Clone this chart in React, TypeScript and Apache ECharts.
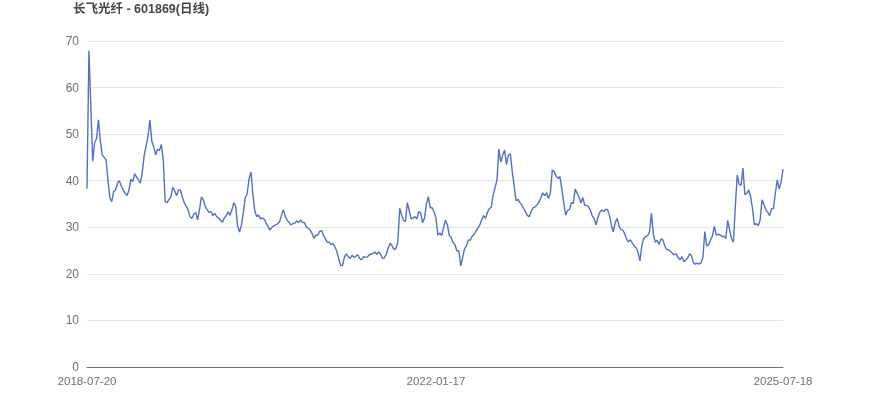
import React, { useEffect, useRef } from "react";
import * as echarts from "echarts";

const TITLE = "长飞光纤 - 601869(日线)";
const DATE_ANCHORS = ["2018-07-20", "2022-01-17", "2025-07-18"];
const Y_TICKS = [0, 10, 20, 30, 40, 50, 60, 70];

// weekly closing prices
const CLOSE: number[] = [
  38.3, 67.9, 56.0, 44.2, 48.2, 49.0, 53.1, 48.5, 45.5, 45.0,
  44.5, 40.0, 36.3, 35.5, 37.7, 38.0, 39.5, 40.0, 38.8, 38.0,
  37.3, 36.8, 38.0, 40.3, 39.8, 41.5, 40.8, 40.2, 39.5, 41.8,
  45.5, 47.5, 49.5, 53.0, 48.4, 47.3, 45.5, 46.8, 46.5, 47.8,
  44.4, 35.5, 35.3, 36.0, 36.5, 38.6, 37.8, 36.8, 38.0, 38.0,
  36.5, 35.3, 34.5, 33.8, 32.3, 31.9, 32.8, 33.2, 31.6, 33.8,
  36.5, 35.9, 34.5, 33.8, 33.2, 33.4, 32.5, 33.0, 32.3, 32.0,
  31.5, 31.1, 32.0, 32.5, 33.3, 32.6, 33.8, 35.3, 34.5, 30.2,
  29.0, 30.5, 33.2, 36.4, 37.2, 40.5, 41.9, 37.0, 33.5, 32.3,
  32.6, 31.8, 32.0, 31.7, 30.9, 30.1, 29.4, 30.0, 30.3, 30.5,
  30.8, 31.2, 32.6, 33.8, 32.3, 31.5, 31.0, 30.5, 30.8, 30.9,
  31.4, 31.0, 31.6, 31.0, 31.0, 30.1, 29.8, 29.4, 28.7, 27.6,
  28.3, 28.3, 29.1, 29.3, 28.3, 27.5, 26.8, 26.8, 26.3, 26.5,
  25.8, 24.8, 23.3, 21.8, 21.8, 23.6, 24.3, 23.7, 23.3, 24.0,
  23.5, 23.8, 24.1, 23.3, 23.0, 23.7, 23.6, 23.6, 24.1, 24.2,
  24.4, 24.7, 24.2, 24.7, 24.2, 23.3, 23.5, 24.3, 25.6, 26.6,
  26.0, 25.2, 25.4, 26.8, 34.1, 32.6, 31.5, 31.2, 35.3, 33.5,
  31.8, 32.0, 32.3, 31.8, 33.4, 33.0, 31.0, 32.0, 35.0, 36.6,
  34.2, 34.2, 33.3, 32.0, 28.3, 28.8, 28.2, 30.0, 31.5, 30.5,
  28.2, 27.8, 26.7, 26.2, 24.9, 25.0, 21.7, 23.5, 25.4, 26.0,
  27.3, 27.2, 28.1, 28.5, 29.2, 29.8, 30.5, 31.6, 32.5, 31.9,
  33.2, 34.0, 34.3, 37.0, 38.5, 40.2, 46.8, 44.0, 45.5, 46.6,
  43.5, 45.5, 45.8, 42.0, 39.0, 35.7, 36.0, 35.3, 34.8, 34.0,
  33.3, 32.5, 32.3, 33.5, 34.2, 34.4, 34.8, 35.4, 36.3, 37.4,
  36.8, 37.4, 36.2, 37.3, 42.3, 41.9, 41.0, 40.5, 40.9, 38.2,
  35.3, 32.6, 33.6, 33.8, 35.3, 35.1, 38.2, 37.3, 36.5, 35.2,
  36.4, 34.7, 34.7, 34.4, 33.7, 32.4, 31.8, 30.5, 32.2, 33.3,
  33.7, 33.4, 33.9, 33.8, 32.5, 30.5, 29.0, 31.0, 31.9, 30.3,
  29.5, 29.4, 28.6, 27.4, 26.9, 27.3, 26.6, 26.0, 25.6, 24.6,
  22.8, 26.2, 27.6, 28.0, 28.2, 29.0, 33.0, 28.5, 26.8, 27.2,
  26.3, 27.5, 27.3, 26.0, 25.2, 25.2, 24.8, 24.4, 24.1, 24.3,
  23.5, 23.0, 23.7, 22.6, 23.0, 23.4, 24.3, 23.9, 22.4, 22.1,
  22.3, 22.1, 22.4, 23.5, 29.1, 26.0, 26.2, 27.3, 28.2, 30.2,
  28.3, 28.5, 28.4, 28.0, 28.1, 27.6, 31.5, 29.4, 27.6, 26.8,
  34.5, 41.2, 39.2, 39.0, 42.7, 37.0, 37.3, 38.0, 36.6, 34.0,
  30.5, 30.8, 30.3, 31.5, 35.9, 34.9, 33.8, 33.2, 32.5, 34.0,
  34.0, 37.4, 40.2, 38.2, 39.8, 42.5,
];

function buildDates(n: number): string[] {
  const t = DATE_ANCHORS.map((d) => Date.parse(d + "T00:00:00Z"));
  const day = 86400000;
  const mid = Math.floor(n / 2);
  const out: string[] = [];
  for (let i = 0; i < n; i++) {
    let ms: number;
    if (i <= mid) {
      ms = t[0] + Math.round((i * (t[1] - t[0])) / day / mid) * day;
    } else {
      ms = t[1] + Math.round(((i - mid) * (t[2] - t[1])) / day / (n - 1 - mid)) * day;
    }
    out.push(new Date(ms).toISOString().slice(0, 10));
  }
  return out;
}

const FONT = "'Liberation Sans', Arial, 'Noto Sans CJK SC', sans-serif";

export default function App() {
  const ref = useRef<HTMLDivElement>(null);
  useEffect(() => {
    if (!ref.current) return;
    const chart = echarts.init(ref.current, undefined, { renderer: "svg" });
    const dates = buildDates(CLOSE.length);
    const mid = Math.floor(CLOSE.length / 2);
    const last = CLOSE.length - 1;
    chart.setOption({
      animation: false,
      textStyle: { fontFamily: FONT },
      title: {
        text: TITLE,
        left: 68,
        top: 0,
        padding: [3, 5],
        textStyle: { fontSize: 12.5, fontWeight: "bold", color: "#464646", fontFamily: FONT },
      },
      grid: { left: 87, right: 87, top: 41, bottom: 50, containLabel: false },
      xAxis: {
        type: "category",
        data: dates,
        boundaryGap: false,
        axisTick: { show: false },
        axisLine: { lineStyle: { color: "#6E7079" } },
        axisLabel: {
          color: "#6E7079",
          fontSize: 11.5,
          fontFamily: FONT,
          interval: (i: number) => i === 0 || i === mid || i === last,
        },
      },
      yAxis: {
        type: "value",
        min: Y_TICKS[0],
        max: Y_TICKS[Y_TICKS.length - 1],
        interval: 10,
        axisLabel: { color: "#6E7079", fontSize: 12, fontFamily: FONT },
        splitLine: { lineStyle: { color: "#E0E6F1" } },
      },
      series: [
        {
          type: "line",
          data: CLOSE,
          showSymbol: false,
          lineStyle: { color: "#5470c6", width: 1.4 },
          itemStyle: { color: "#5470c6" },
        },
      ],
    });
    return () => chart.dispose();
  }, []);
  return (
    <div
      ref={ref}
      style={{ position: "fixed", left: 0, top: 0, width: 870, height: 417 }}
    />
  );
}
